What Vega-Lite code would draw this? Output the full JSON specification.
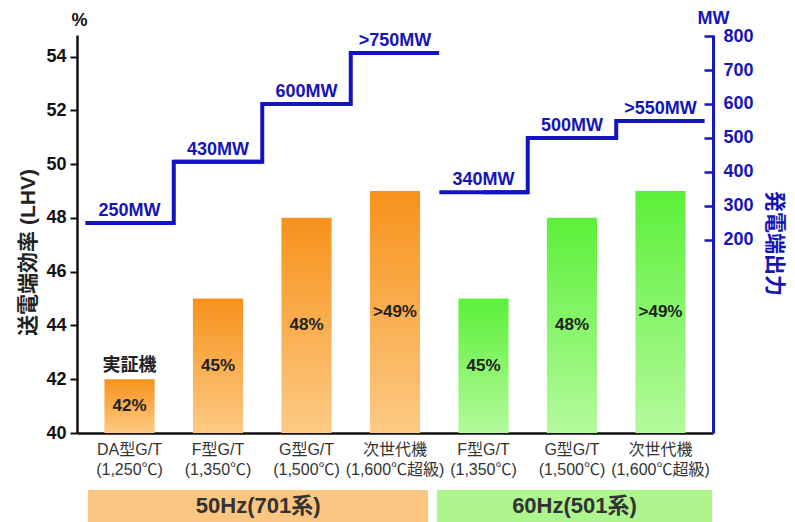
{
  "$schema": "https://vega.github.io/schema/vega-lite/v6.json",
  "width": 636,
  "height": 398,
  "autosize": {"type": "none"},
  "padding": {"left": 77, "top": 35, "right": 82, "bottom": 89},
  "background": "white",
  "config": {"view": {"stroke": null}, "font": "Liberation Sans, Noto Sans CJK JP, sans-serif"},
  "datasets": {
    "units": [
      {"id": "50|DA型G/T|(1,250℃)", "group": "50Hz", "eff": 42, "effLabel": "42%", "mw": 250, "mwLabel": "250MW", "note": "実証機"},
      {"id": "50|F型G/T|(1,350℃)", "group": "50Hz", "eff": 45, "effLabel": "45%", "mw": 430, "mwLabel": "430MW"},
      {"id": "50|G型G/T|(1,500℃)", "group": "50Hz", "eff": 48, "effLabel": "48%", "mw": 600, "mwLabel": "600MW"},
      {"id": "50|次世代機|(1,600℃超級)", "group": "50Hz", "eff": 49, "effLabel": ">49%", "mw": 750, "mwLabel": ">750MW"},
      {"id": "60|F型G/T|(1,350℃)", "group": "60Hz", "eff": 45, "effLabel": "45%", "mw": 340, "mwLabel": "340MW"},
      {"id": "60|G型G/T|(1,500℃)", "group": "60Hz", "eff": 48, "effLabel": "48%", "mw": 500, "mwLabel": "500MW"},
      {"id": "60|次世代機|(1,600℃超級)", "group": "60Hz", "eff": 49, "effLabel": ">49%", "mw": 550, "mwLabel": ">550MW"}
    ],
    "groups": [
      {"name": "50Hz(701系)", "group": "50Hz", "first": "50|DA型G/T|(1,250℃)", "last": "50|次世代機|(1,600℃超級)", "mid": "50|F型G/T|(1,350℃)"},
      {"name": "60Hz(501系)", "group": "60Hz", "first": "60|F型G/T|(1,350℃)", "last": "60|次世代機|(1,600℃超級)", "mid": "60|G型G/T|(1,500℃)"}
    ]
  },
  "resolve": {"scale": {"y": "independent"}, "axis": {"y": "independent"}},
  "layer": [
    {
      "data": {"name": "units"},
      "layer": [
        {
          "transform": [{"filter": "datum.group === '50Hz'"}],
          "mark": {"type": "bar", "color": {"gradient": "linear", "x1": 0, "y1": 0, "x2": 0, "y2": 1, "stops": [{"offset": 0, "color": "#f7921c"}, {"offset": 1, "color": "#fdca84"}]}},
          "encoding": {
            "x": {"field": "id", "type": "nominal", "sort": null,
              "scale": {"domain": ["50|DA型G/T|(1,250℃)", "50|F型G/T|(1,350℃)", "50|G型G/T|(1,500℃)", "50|次世代機|(1,600℃超級)", "60|F型G/T|(1,350℃)", "60|G型G/T|(1,500℃)", "60|次世代機|(1,600℃超級)"], "paddingInner": 0.433, "paddingOuter": 0.31},
              "axis": {"title": null, "labelExpr": "slice(split(datum.label, '|'), 1)", "labelAngle": 0, "labelFontSize": 16, "labelColor": "#333", "labelPadding": 8, "labelLineHeight": 20, "labelOverlap": false, "labelBound": false, "ticks": false, "domainColor": "#111", "domainWidth": 2.5}},
            "y": {"field": "eff", "type": "quantitative", "scale": {"domain": [40, 54.8], "nice": false, "zero": false},
              "axis": {"values": [40, 42, 44, 46, 48, 50, 52, 54], "title": "%", "titleAngle": 0, "titleX": 2, "titleY": -10, "titleAlign": "center", "titleBaseline": "alphabetic", "titleFontSize": 18, "titleFontWeight": "bold", "titleColor": "#111", "labelFontSize": 18, "labelFontWeight": "bold", "labelColor": "#111", "labelPadding": 4, "tickSize": 7, "tickWidth": 2, "tickColor": "#111", "domainColor": "#111", "domainWidth": 2.5, "grid": false}},
            "y2": {"datum": 40}
          }
        },
        {
          "transform": [{"filter": "datum.group === '60Hz'"}],
          "mark": {"type": "bar", "color": {"gradient": "linear", "x1": 0, "y1": 0, "x2": 0, "y2": 1, "stops": [{"offset": 0, "color": "#5cf03a"}, {"offset": 1, "color": "#b4fa9c"}]}},
          "encoding": {
            "x": {"field": "id", "type": "nominal", "sort": null},
            "y": {"field": "eff", "type": "quantitative"},
            "y2": {"datum": 40}
          }
        },
        {
          "mark": {"type": "text", "fontSize": 17, "fontWeight": "bold", "color": "#222"},
          "encoding": {
            "x": {"field": "id", "type": "nominal", "sort": null},
            "y": {"datum": 40, "type": "quantitative"},
            "yOffset": {"field": "eff", "type": "quantitative", "scale": {"domain": [40, 54.8], "range": [0, -199]}},
            "text": {"field": "effLabel"}
          }
        }
      ]
    },
    {
      "data": {"name": "units"},
      "layer": [
        {
          "mark": {"type": "line", "interpolate": "step", "color": "#1414c0", "strokeWidth": 4},
          "encoding": {
            "x": {"field": "id", "type": "nominal", "sort": null},
            "y": {"field": "mw", "type": "quantitative", "scale": {"domain": [-368, 803], "nice": false, "zero": false},
              "axis": {"orient": "right", "values": [200, 300, 400, 500, 600, 700, 800], "title": "MW", "titleAngle": 0, "titleX": 0, "titleY": -12, "titleAlign": "center", "titleBaseline": "alphabetic", "titleColor": "#1414b8", "titleFontSize": 18, "titleFontWeight": "bold", "labelColor": "#1414b8", "labelFontSize": 18, "labelFontWeight": "bold", "tickColor": "#1414c0", "tickSize": -9, "tickWidth": 2.5, "labelPadding": 19, "domainColor": "#1414c0", "domainWidth": 3, "grid": false}},
            "detail": {"field": "group"}
          }
        },
        {
          "mark": {"type": "rule", "color": "#1414c0", "strokeWidth": 4},
          "encoding": {
            "x": {"field": "id", "type": "nominal", "sort": null, "bandPosition": -0.38},
            "x2": {"field": "id", "bandPosition": 1.38},
            "y": {"field": "mw", "type": "quantitative"}
          }
        },
        {
          "mark": {"type": "text", "fontSize": 18, "fontWeight": "bold", "color": "#1414b8", "baseline": "bottom", "dy": -3},
          "encoding": {
            "x": {"field": "id", "type": "nominal", "sort": null},
            "y": {"field": "mw", "type": "quantitative"},
            "text": {"field": "mwLabel"}
          }
        }
      ]
    },
    {
      "data": {"name": "groups"},
      "layer": [
        {
          "transform": [{"filter": "datum.group === '50Hz'"}],
          "mark": {"type": "rect", "color": "#fbc582"},
          "encoding": {
            "x": {"field": "first", "type": "nominal", "bandPosition": -0.33},
            "x2": {"field": "last", "bandPosition": 1.16},
            "y": {"datum": 37.88, "type": "quantitative", "scale": {"domain": [40, 54.8], "nice": false, "zero": false},
              "axis": {"orient": "left", "labels": false, "ticks": false, "domain": false, "grid": false, "title": "送電端効率 (LHV)", "titleX": -49, "titleY": 217, "titleAngle": -90, "titleAlign": "center", "titleBaseline": "middle", "titleFontSize": 21, "titleFontWeight": "bold", "titleColor": "#222"}},
            "y2": {"datum": 36.6}
          }
        },
        {
          "transform": [{"filter": "datum.group === '60Hz'"}],
          "mark": {"type": "rect", "color": "#aef58e"},
          "encoding": {
            "x": {"field": "first", "type": "nominal", "bandPosition": -0.43},
            "x2": {"field": "last", "bandPosition": 1.53},
            "y": {"datum": 37.88, "type": "quantitative"},
            "y2": {"datum": 36.6}
          }
        },
        {
          "transform": [{"filter": "datum.group === '50Hz'"}],
          "mark": {"type": "text", "fontSize": 22, "fontWeight": "bold", "color": "#333", "baseline": "middle"},
          "encoding": {
            "x": {"field": "mid", "type": "nominal", "bandPosition": 1.3},
            "y": {"datum": 37.28, "type": "quantitative"},
            "text": {"field": "name"}
          }
        },
        {
          "transform": [{"filter": "datum.group === '60Hz'"}],
          "mark": {"type": "text", "fontSize": 22, "fontWeight": "bold", "color": "#333", "baseline": "middle"},
          "encoding": {
            "x": {"field": "mid", "type": "nominal", "bandPosition": 0.55},
            "y": {"datum": 37.28, "type": "quantitative"},
            "text": {"field": "name"}
          }
        }
      ]
    },
    {
      "data": {"name": "units"},
      "transform": [{"filter": "datum.note"}],
      "mark": {"type": "text", "fontSize": 18, "fontWeight": "bold", "color": "#222", "baseline": "bottom", "dy": -4},
      "encoding": {
        "x": {"field": "id", "type": "nominal", "sort": null},
        "y": {"field": "eff", "type": "quantitative", "scale": {"domain": [40, 54.8], "nice": false, "zero": false},
          "axis": {"orient": "right", "labels": false, "ticks": false, "domain": false, "grid": false, "title": "発電端出力", "titleX": 60, "titleY": 208, "titleAngle": 90, "titleAlign": "center", "titleBaseline": "middle", "titleFontSize": 21, "titleFontWeight": "bold", "titleColor": "#1414b8"}},
        "text": {"field": "note"}
      }
    }
  ]
}
